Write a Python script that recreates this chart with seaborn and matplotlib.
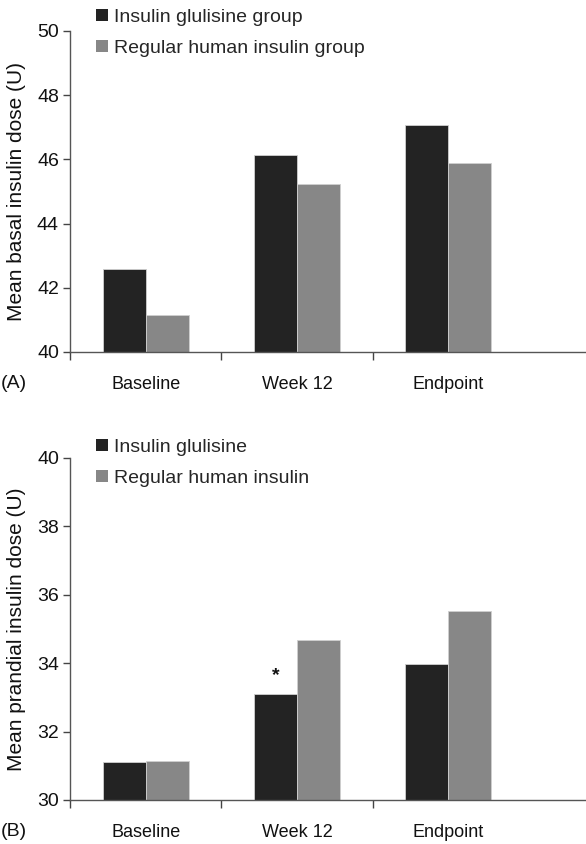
import matplotlib
matplotlib.use("Agg")
import matplotlib.pyplot as plt
import pandas as pd
import seaborn as sns
from matplotlib.patches import Patch

# Data
timepoints = ["Baseline", "Week 12", "Endpoint"]
basal_glulisine = [42.58, 46.14, 47.08]
basal_regular = [41.14, 45.22, 45.89]
prandial_glulisine = [31.10, 33.10, 33.97]
prandial_regular = [31.15, 34.68, 35.52]

basal_groups = ["Insulin glulisine group", "Regular human insulin group"]
prandial_groups = ["Insulin glulisine", "Regular human insulin"]

dark = "#232323"
grey = "#878787"

sns.set_theme(style="white")
plt.rcParams["font.family"] = ["Liberation Sans", "DejaVu Sans"]

W, H = 586, 844
fig = plt.figure(figsize=(W / 100, H / 100), dpi=100)


def panel(rect_px, g_vals, r_vals, groups, ylim, ylabel, tag, legend_top, star=False):
    left, top, right, bottom = rect_px
    ax = fig.add_axes([left / W, 1 - bottom / H, (right - left) / W, (bottom - top) / H])
    df = pd.DataFrame({
        "time": timepoints * 2,
        "dose": g_vals + r_vals,
        "group": [groups[0]] * 3 + [groups[1]] * 3,
    })
    sns.barplot(data=df, x="time", y="dose", hue="group", palette=[dark, grey],
                width=0.57, gap=0, edgecolor="#d0d0d0", linewidth=0.6, ax=ax,
                legend=False)
    ax.set_ylim(*ylim)
    ax.set_xlim(-0.5, 2.91)
    ax.set_yticks(range(ylim[0], ylim[1] + 1, 2))
    ax.set_xticks([0, 1, 2])
    ax.set_xticklabels(timepoints)
    ax.set_xticks([-0.5, 0.5, 1.5], minor=True)
    ax.tick_params(axis="x", which="major", length=0, pad=17, labelsize=13,
                   colors="#111111")
    ax.tick_params(axis="x", which="minor", direction="out", length=6, width=1,
                   color="#444444", bottom=True)
    ax.tick_params(axis="y", direction="out", length=5, width=1, color="#444444",
                   left=True, labelsize=14, pad=3, colors="#111111")
    ax.set_xlabel("")
    ax.set_ylabel(ylabel, fontsize=15, labelpad=8, color="#111111")
    for s in ["top", "right"]:
        ax.spines[s].set_visible(False)
    for s in ["left", "bottom"]:
        ax.spines[s].set_color("#555555")
        ax.spines[s].set_linewidth(1)

    handles = [Patch(facecolor=dark, edgecolor="none"), Patch(facecolor=grey, edgecolor="none")]
    ax.legend(handles, groups, loc="upper left",
              bbox_to_anchor=(96 / W, 1 - legend_top / H),
              bbox_transform=fig.transFigure, frameon=False, fontsize=14,
              handlelength=0.6, handleheight=0.6, handletextpad=0.3,
              labelspacing=0.72, borderaxespad=0, borderpad=0)

    fig.text(1 / W, 1 - (bottom + 31) / H, tag, fontsize=14, va="center",
             ha="left", color="#111111")

    if star:
        y = g_vals[1] + (ylim[1] - ylim[0]) * 0.055
        ax.text(1 - 0.57 / 4, y, "*", ha="center", va="center", fontsize=14,
                fontweight="bold", color="#111111")
    return ax


panel((70, 31, 586, 352), basal_glulisine, basal_regular, basal_groups,
      (40, 50), "Mean basal insulin dose (U)", "(A)", legend_top=9)
panel((70, 458, 586, 800), prandial_glulisine, prandial_regular, prandial_groups,
      (30, 40), "Mean prandial insulin dose (U)", "(B)", legend_top=439, star=True)

fig.savefig("out.png", dpi=100)
